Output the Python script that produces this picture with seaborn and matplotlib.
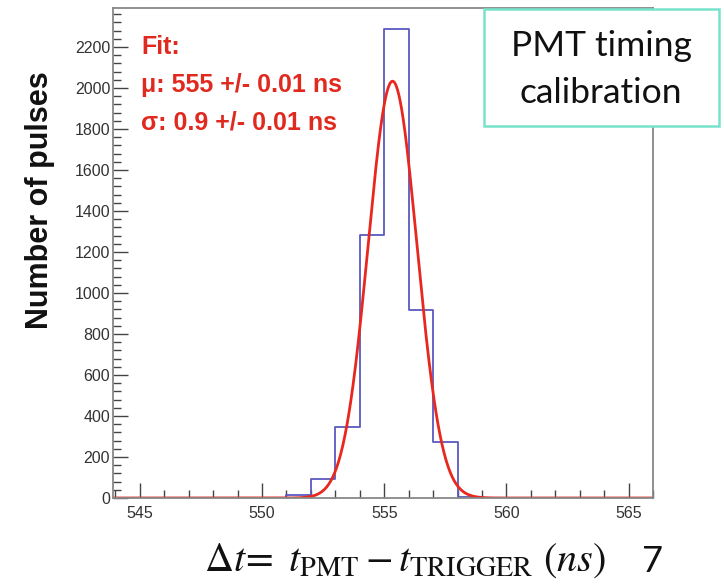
import numpy as np
import pandas as pd
import matplotlib
matplotlib.use("Agg")
import matplotlib.pyplot as plt
import seaborn as sns
from matplotlib.patches import Rectangle
from matplotlib.ticker import MultipleLocator

# ---- data ----
bin_left = [551, 552, 553, 554, 555, 556, 557, 558]
counts = [15, 93, 348, 1284, 2286, 917, 271, 4]
bin_edges = list(range(544, 567))
fit_amp = 2033.0
fit_mean = 555.34
fit_sigma = 1.0
y_ticks = [0, 200, 400, 600, 800, 1000, 1200, 1400, 1600, 1800, 2000, 2200]
x_ticks = [545, 550, 555, 560, 565]
fit_lines = ["Fit:", "\u03bc: 555 +/- 0.01 ns", "\u03c3: 0.9 +/- 0.01 ns"]

sns.set_style("white")
plt.rcParams["mathtext.fontset"] = "stix"
W, H = 724, 586
fig = plt.figure(figsize=(W / 100, H / 100), dpi=100)

def fx(px):
    return px / W

def fy(py):
    return 1 - py / H

ax = fig.add_axes([fx(113), fy(498), fx(653) - fx(113), fy(8) - fy(498)])

hist_df = pd.DataFrame({"t": [b + 0.5 for b in bin_left], "n": counts})
sns.histplot(data=hist_df, x="t", weights="n", bins=bin_edges, element="step",
             fill=False, color="#5a5ac0", linewidth=1.3, ax=ax)

xs = np.linspace(543.9, 566.0, 800)
fit_df = pd.DataFrame({"t": xs,
                       "f": fit_amp * np.exp(-0.5 * ((xs - fit_mean) / fit_sigma) ** 2)})
sns.lineplot(data=fit_df, x="t", y="f", color="#e8281e", linewidth=2.0, ax=ax)

ax.set_xlim(543.9, 566.0)
ax.set_ylim(0, 2390)
ax.set_xlabel("")
ax.set_ylabel("")

sans = ["Liberation Sans", "DejaVu Sans"]

ax.set_yticks(y_ticks)
ax.yaxis.set_minor_locator(MultipleLocator(40))
ax.set_xticks(x_ticks)
ax.xaxis.set_minor_locator(MultipleLocator(1))
ax.tick_params(which="both", direction="in", color="#444444", width=1.0)
ax.tick_params(which="major", length=11)
ax.tick_params(which="minor", length=5.5)
ax.tick_params(axis="y", which="both", left=True, right=False, pad=2)
ax.tick_params(axis="x", which="both", bottom=True, top=False, pad=6)
for lab in ax.get_yticklabels() + ax.get_xticklabels():
    lab.set_family(sans)
    lab.set_fontsize(11.5)
    lab.set_color("#333333")

for s in ax.spines.values():
    s.set_color("#888888")
    s.set_linewidth(1.3)
    s.set_visible(True)

# Fit annotation
for i, line in enumerate(fit_lines):
    fig.text(fx(141), fy(47 + 38 * i), line, color="#e02a20", fontsize=18,
             fontweight="bold", family=sans, ha="left", va="center")

# y label
fig.text(fx(40), fy(200), "Number of pulses", rotation=90, fontsize=22,
         fontweight="bold", family=sans,
         ha="center", va="center", color="#111111")

# x label (math)
fig.text(fx(405), fy(560),
         r"$\Delta t\!=\ t_{\mathrm{PMT}} - t_{\mathrm{TRIGGER}}\ (ns)$",
         fontsize=29, ha="center", va="center", color="#111111")
fig.text(fx(653), fy(562), "7", fontsize=26, family=["Lato", "DejaVu Sans"],
         ha="center", va="center", color="#111111")

# Title box
fig.patches.append(Rectangle((fx(484), fy(126)), fx(719) - fx(484), fy(9) - fy(126),
                             transform=fig.transFigure, facecolor="white",
                             edgecolor="#76e3cc", linewidth=1.8, zorder=5))
fig.text(fx(601), fy(46), "PMT timing", fontsize=25.5, family=["Lato", "DejaVu Sans"],
         ha="center", va="center", color="#111111", zorder=6)
fig.text(fx(601), fy(93), "calibration", fontsize=25.5, family=["Lato", "DejaVu Sans"],
         ha="center", va="center", color="#111111", zorder=6)

fig.savefig("out.png", dpi=100)
